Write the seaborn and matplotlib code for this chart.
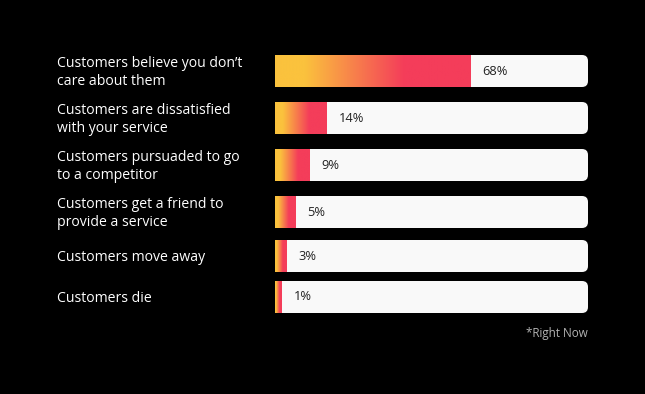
import numpy as np
import pandas as pd
import matplotlib
matplotlib.use("Agg")
import matplotlib.pyplot as plt
import matplotlib.transforms as mtransforms
import seaborn as sns
from matplotlib.colors import LinearSegmentedColormap
from matplotlib.patches import FancyBboxPatch

# ---------------- data ----------------
categories = [
    "Customers believe you don’t\ncare about them",
    "Customers are dissatisfied\nwith your service",
    "Customers pursuaded to go\nto a competitor",
    "Customers get a friend to\nprovide a service",
    "Customers move away",
    "Customers die",
]
values = [68, 14, 9, 5, 3, 1]
value_labels = [f"{v}%" for v in values]
# length of the coloured fill, as % of the white track (as drawn in the picture)
bar_lengths = [62.4, 16.5, 11.0, 6.4, 3.8, 2.1]
track = [100, 100, 100, 100, 100, 100]
footnote = "*Right Now"

# ---------------- style ----------------
W, H = 645, 394
sns.set_theme(style="white")
plt.rcParams["font.family"] = ["Open Sans", "DejaVu Sans"]

YELLOW = "#fbc23d"
RED = "#f43d5a"
TRACK = "#f9f9f9"
grad_cmap = LinearSegmentedColormap.from_list(
    "fill", [(0.0, YELLOW), (0.15, YELLOW), (0.66, RED), (1.0, RED)])

# layout: row pitch depends on number of label lines
nlines = [c.count("\n") + 1 for c in categories]
row_h = [41 + 6 * (n - 1) for n in nlines]
centers = [71.0]
for i in range(1, len(categories)):
    centers.append(centers[-1] + (row_h[i - 1] + row_h[i]) / 2)

df = pd.DataFrame({"pos": centers, "track": track, "fill": bar_lengths,
                   "cat": categories, "label": value_labels})

fig = plt.figure(figsize=(W / 100, H / 100), dpi=100, facecolor="black")
TRACK_L, TRACK_W = 275, 313
ax = fig.add_axes([TRACK_L / W, 0, TRACK_W / W, 1])
ax.set_facecolor("none")

BAR_H = 32
bw = BAR_H / np.min(np.diff(centers))
sns.barplot(data=df, x="track", y="pos", orient="h", native_scale=True,
            width=bw, color=TRACK, saturation=1, linewidth=0, ax=ax)
n_track = len(ax.patches)
sns.barplot(data=df, x="fill", y="pos", orient="h", native_scale=True,
            width=bw, color=RED, saturation=1, linewidth=0, ax=ax)

ax.set_xlim(0, 100)
ax.set_ylim(H, 0)

px_per_x = TRACK_W / 100.0
radius_px = 6
r_x = radius_px / px_per_x

# rounded right end of tracks
for p in ax.patches[:n_track]:
    x0, y0, w, h = p.get_x(), p.get_y(), p.get_width(), p.get_height()
    clip = FancyBboxPatch((x0 - 3 * r_x, y0), w + 3 * r_x, h,
                          boxstyle=f"round,pad=0,rounding_size={r_x}",
                          mutation_aspect=radius_px / r_x,
                          transform=ax.transData)
    p.set_clip_path(clip)

# gradient fills + value labels
grad = np.linspace(0, 1, 256).reshape(1, -1)
fill_patches = ax.patches[n_track:]
for p, lab in zip(fill_patches, value_labels):
    x0, y0, w, h = p.get_x(), p.get_y(), p.get_width(), p.get_height()
    im = ax.imshow(grad, extent=(x0, x0 + w, y0 + h, y0), cmap=grad_cmap,
                   aspect="auto", interpolation="bilinear", zorder=p.get_zorder() + 0.1)
    im.set_clip_path(p)
    ax.annotate(lab, xy=(x0 + w, y0 + h / 2), xytext=(12 * 0.72, 0),
                textcoords="offset points", ha="left", va="center",
                fontsize=9.3, color="#222222", zorder=5)

ax.set_xlim(0, 100)
ax.set_ylim(H, 0)

# category labels as y tick labels, left aligned at x=57px
ax.set_yticks(centers)
ax.set_yticklabels(categories)
ax.tick_params(axis="y", length=0, pad=(TRACK_L - 57) * 0.72,
               labelcolor="white", labelsize=10.1)
shift = mtransforms.ScaledTranslation(0, -1.5 / 100, fig.dpi_scale_trans)
for t in ax.get_yticklabels():
    t.set_ha("left")
    t.set_va("center")
    t.set_linespacing(1.32)
    t.set_transform(t.get_transform() + shift)
ax.set_xticks([])
ax.set_xlabel("")
ax.set_ylabel("")
for s in ax.spines.values():
    s.set_visible(False)

fig.text(588 / W, 1 - 334 / H, footnote, ha="right", va="center",
         color="#b3b3b3", fontsize=8.4)

fig.savefig("out.png", dpi=100, facecolor="black")
